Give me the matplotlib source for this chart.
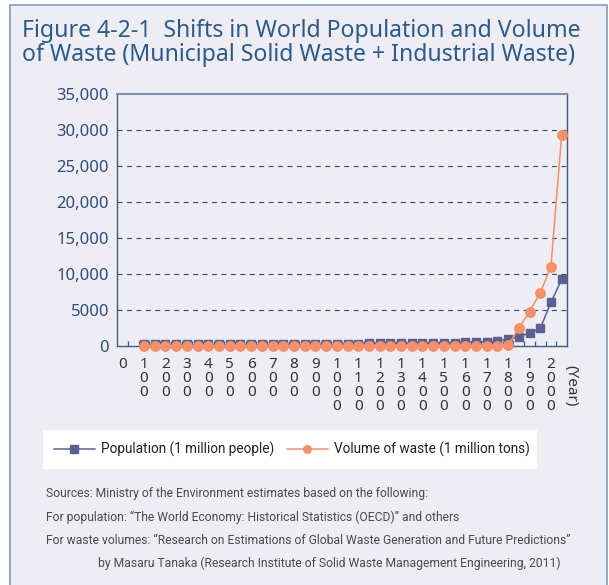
import matplotlib
matplotlib.use("Agg")
import matplotlib.pyplot as plt
from matplotlib.patches import Rectangle
from matplotlib.lines import Line2D

# categories on the x axis (every 50 years), labels shown every 100 years
years = [0, 50, 100, 150, 200, 250, 300, 350, 400, 450, 500, 550, 600, 650,
         700, 750, 800, 850, 900, 950, 1000, 1050, 1100, 1150, 1200, 1250,
         1300, 1350, 1400, 1450, 1500, 1550, 1600, 1650, 1700, 1750, 1800,
         1850, 1900, 1950, 2000, 2050]
label_years = [0, 100, 200, 300, 400, 500, 600, 700, 800, 900, 1000, 1100,
               1200, 1300, 1400, 1500, 1600, 1700, 1800, 1900, 2000]

# data starts at year 100
data_years = years[2:]
population = [250, 250, 250, 250, 250, 250, 250, 250, 250, 250, 250, 250,
              250, 250, 250, 250, 250, 260, 270, 300, 320, 350, 360, 380,
              380, 370, 350, 400, 430, 470, 550, 550, 600, 750, 950, 1300,
              1800, 2450, 6050, 9250]
waste = [20, 20, 20, 20, 20, 20, 20, 20, 20, 20, 20, 20,
         20, 20, 20, 20, 20, 20, 20, 20, 25, 25, 25, 30,
         30, 30, 30, 30, 35, 35, 40, 40, 45, 50, 80, 2500,
         4750, 7400, 11000, 29300]

main_font = "Noto Sans"
narrow = "Roboto"

pop_color = "#5A6190"
waste_color = "#F59068"
axis_color = "#3B5A8A"
bg = "#EDEDF3"

fig = plt.figure(figsize=(6.09, 5.85), dpi=100)
fig.patch.set_facecolor("white")
fig.patches.append(Rectangle((10 / 609, -0.05), 596.5 / 609, 1 - 5 / 585 + 0.05,
                             transform=fig.transFigure, facecolor=bg,
                             edgecolor="#8EA3C0", linewidth=1.3, zorder=-5))
# white legend panel
fig.patches.append(Rectangle((43 / 609, 1 - 469 / 585), 494 / 609, 39 / 585,
                             transform=fig.transFigure, facecolor="white",
                             edgecolor="none", zorder=-4))

fig.text(22 / 609, 1 - 31 / 585,
         "Figure 4-2-1  Shifts in World Population and Volume",
         family=main_font, fontsize=16.6, color="#2B5A8C", va="center",
         ha="left")
fig.text(22 / 609, 1 - 55 / 585,
         "of Waste (Municipal Solid Waste + Industrial Waste)",
         family=main_font, fontsize=16.6, color="#2B5A8C", va="center",
         ha="left")

ax = fig.add_axes([117.3 / 609, 1 - 346 / 585, 449.7 / 609, 252 / 585])
ax.patch.set_alpha(0)

idx = {y: i for i, y in enumerate(years)}
xs = [idx[y] for y in data_years]
ax.plot(xs, population, color=pop_color, marker="s", ms=6.3, lw=1.1,
        zorder=3, clip_on=False)
ax.plot(xs, waste, color=waste_color, marker="o", ms=6.8, lw=1.1,
        zorder=4, clip_on=False)

ax.set_xlim(-0.5, len(years) - 0.5)
ax.set_ylim(0, 35000)
ax.set_yticks([0, 5000, 10000, 15000, 20000, 25000, 30000, 35000])
ax.set_yticklabels(["0", "5000", "10,000", "15,000", "20,000", "25,000",
                    "30,000", "35,000"], family=main_font, fontsize=12,
                   color="#2F4B7C")
ax.tick_params(axis="y", length=0, pad=6)
for v in [5000, 10000, 15000, 20000, 25000, 30000]:
    ax.axhline(v, color="#2F4B7C", lw=0.8, dashes=(4.5, 4), zorder=1)

# tick marks at category boundaries, labels at category centres
ax.set_xticks([i + 0.5 for i in range(len(years) - 1)])
ax.set_xticklabels([])
ax.tick_params(axis="x", which="major", direction="in", length=3.5,
               color=axis_color, width=0.9)
ax.set_xticks([idx[y] for y in label_years], minor=True)
ax.set_xticklabels(["\n".join(str(y)) for y in label_years], minor=True,
                   family=main_font, fontsize=11, color="#333333",
                   linespacing=0.92, va="top")
ax.tick_params(axis="x", which="minor", length=0, pad=8)

for s in ["left", "bottom", "right"]:
    ax.spines[s].set_color(axis_color)
    ax.spines[s].set_linewidth(1.0)
ax.spines["top"].set_color("#7D8FB0")
ax.spines["top"].set_linewidth(1.5)

fig.text(571 / 609, 1 - 386 / 585, "(Year)", rotation=-90, family=main_font,
         fontsize=11, color="#333333", ha="center", va="center")

handles = [Line2D([], [], color=pop_color, marker="s", ms=5.5, lw=1.1),
           Line2D([], [], color=waste_color, marker="o", ms=5.5, lw=1.1)]
leg = fig.legend(handles, ["Population (1 million people)",
                           "Volume of waste (1 million tons)"],
                 loc="center", ncol=2,
                 bbox_to_anchor=(292 / 609, 1 - 449.5 / 585),
                 frameon=False, handlelength=3.0, columnspacing=0.9,
                 handletextpad=0.5, prop={"family": narrow, "size": 9.8})
for t in leg.get_texts():
    t.set_color("#222222")

src_lines = [
    (46, 494, "Sources: Ministry of the Environment estimates based on the following:"),
    (46, 517, "For population: \u201cThe World Economy: Historical Statistics (OECD)\u201d and others"),
    (46, 540, "For waste volumes: \u201cResearch on Estimations of Global Waste Generation and Future Predictions\u201d"),
    (98, 563, "by Masaru Tanaka (Research Institute of Solid Waste Management Engineering, 2011)"),
]
for x, y, s in src_lines:
    fig.text(x / 609, 1 - y / 585, s, family=narrow, fontsize=8.75,
             color="#4A4A4A", ha="left", va="center")

fig.savefig("out.png", dpi=100, facecolor=fig.get_facecolor())
